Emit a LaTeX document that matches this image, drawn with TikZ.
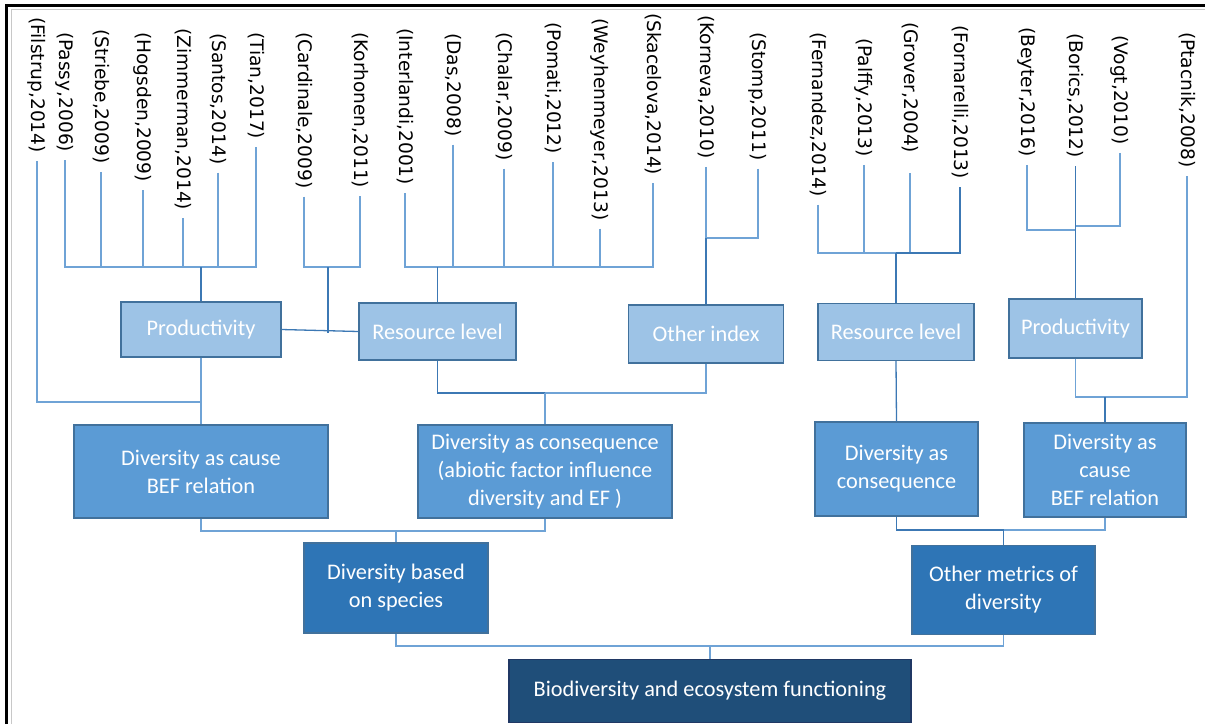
\documentclass[tikz,border=0pt]{standalone}
\usepackage{fontspec}
\setmainfont{Carlito}
\newfontfamily\labfont{DejaVu Sans}
\definecolor{lightfill}{HTML}{9DC3E6}
\definecolor{midfill}{HTML}{5B9BD5}
\definecolor{darkfill}{HTML}{2E75B6}
\definecolor{darkestfill}{HTML}{1F4E79}
\definecolor{boxline}{HTML}{41719C}
\definecolor{darkestline}{HTML}{203864}
\definecolor{connc}{HTML}{6FA3D6}
\definecolor{conndark}{HTML}{3C78B4}
\definecolor{framegray}{HTML}{C8C8C8}
\begin{document}
\begin{tikzpicture}[x=1pt,y=-1pt,
  lab/.style={rotate=-90, anchor=west, inner xsep=8pt, inner ysep=0pt, font=\labfont\fontsize{18.6}{22}\selectfont, text=black},
  bx/.style={draw=boxline, line width=1.1pt, text=white, align=center, inner sep=0pt, font=\fontsize{22.3}{28}\selectfont},
  lt/.style={bx, fill=lightfill},
  md/.style={bx, fill=midfill},
  dk/.style={bx, fill=darkfill},
  dkk/.style={bx, fill=darkestfill, draw=darkestline},
  conn/.style={draw=connc, line width=1.3pt},
  connd/.style={draw=conndark, line width=1.3pt}]
\useasboundingbox (0,0) rectangle (1205,724);
% frame
\draw[black, line width=2.2pt] (6.5,724) -- (6.5,5.5) -- (1205,5.5);
\draw[framegray, line width=1.5pt] (11.5,724) -- (11.5,9.5) -- (1205,9.5);

% reference labels
\node[lab] (l1) at (37,9) {(Filstrup,2014)};
\node[lab] (l2) at (65,24) {(Passy,2006)};
\node[lab] (l3) at (101,21) {(Striebe,2009)};
\node[lab] (l4) at (143,24) {(Hogsden,2009)};
\node[lab] (l5) at (183,20) {(Zimmerman,2014)};
\node[lab] (l6) at (218,25) {(Santos,2014)};
\node[lab] (l7) at (256,24) {(Tian,2017)};
\node[lab] (l8) at (304,24) {(Cardinale,2009)};
\node[lab] (l9) at (360,24) {(Korhonen,2011)};
\node[lab] (l10) at (405,20) {(Interlandi,2001)};
\node[lab] (l11) at (453,25) {(Das,2008)};
\node[lab] (l12) at (504,24) {(Chalar,2009)};
\node[lab] (l13) at (553,14) {(Pomati,2012)};
\node[lab] (l14) at (600,10) {(Weyhenmeyer,2013)};
\node[lab] (l15) at (653,5) {(Skacelova,2014)};
\node[lab] (l16) at (706,7) {(Korneva,2010)};
\node[lab] (l17) at (758,24) {(Stomp,2011)};
\node[lab] (l18) at (818,24) {(Fernandez,2014)};
\node[lab] (l19) at (864,30) {(Palffy,2013)};
\node[lab] (l20) at (910,14) {(Grover,2004)};
\node[lab] (l21) at (960,17) {(Fornarelli,2013)};
\node[lab] (l22) at (1027,19) {(Beyter,2016)};
\node[lab] (l23) at (1075.5,25) {(Borics,2012)};
\node[lab] (l24) at (1120,27) {(Vogt,2010)};
\node[lab] (l25) at (1187,24) {(Ptacnik,2008)};

% boxes
\node[lt, minimum width=160, minimum height=55] (p1) at (201,329.5) {Productivity};
\node[lt, minimum width=157, minimum height=57] (r1) at (437.5,331.5) {Resource level};
\node[lt, minimum width=155, minimum height=58] (o) at (706,334) {Other index};
\node[lt, minimum width=156, minimum height=57] (r2) at (896,332) {Resource level};
\node[lt, minimum width=133, minimum height=59] (p2) at (1075.5,328.5) {Productivity};
\node[md, minimum width=254, minimum height=93] (dc1) at (201,471.5) {Diversity as cause\\BEF relation};
\node[md, minimum width=254, minimum height=93] (dcon1) at (545,471.5) {Diversity as consequence\\(abiotic factor influence\\diversity and EF )};
\node[md, minimum width=163, minimum height=94] (dcon2) at (896.5,469) {Diversity as\\consequence};
\node[md, minimum width=162, minimum height=94] (dcr) at (1105,470) {Diversity as\\cause\\BEF relation};
\node[dk, minimum width=184, minimum height=90] (dbs) at (396,588) {Diversity based\\on species};
\node[dk, minimum width=183, minimum height=89] (om) at (1003.5,590) {Other metrics of\\diversity};
\node[dkk, minimum width=402, minimum height=63] (bef) at (710,691) {Biodiversity and ecosystem functioning};

% junctions
\coordinate (jP) at (201,267);
\coordinate (jF) at (201,402);
\coordinate (jK) at (328,267);
\coordinate (jK2) at (328,333);
\coordinate (jR) at (437.5,267);
\coordinate (jO) at (706,238);
\coordinate (jR2) at (896,253);
\coordinate (jB1) at (1075.5,230);
\coordinate (jB2) at (1075.5,226);
\coordinate (jPt) at (1105,397);
\coordinate (jD) at (545,393);
\coordinate (jL3) at (396,531);
\coordinate (jR3) at (1003.5,530);
\coordinate (j4) at (710,646);

% left productivity group
\foreach \n in {l2,l3,l4,l5,l6,l7} {\draw[conn] (\n.east) |- (jP);}
\draw[connd] (jP) -- (p1.north);
\draw[conn] (l1.east) |- (jF);
\draw[conn] (p1.south) -- (dc1.north);
% Cardinale / Korhonen
\draw[conn] (l8.east) |- (jK);
\draw[conn] (l9.east) |- (jK);
\draw[connd] (jK) -- (jK2);
\draw[connd] (p1.east) -- (r1.west);
% Interlandi group
\foreach \n in {l10,l11,l12,l13,l14,l15} {\draw[conn] (\n.east) |- (jR);}
\draw[connd] (jR) -- (r1.north);
% Korneva / Stomp
\draw[conn] (l16.east) |- (jO);
\draw[conn] (l17.east) |- (jO);
\draw[connd] (jO) -- (o.north);
% Fernandez group
\draw[conn] (l18.east) |- (jR2);
\draw[conn] (l19.east) |- (jR2);
\draw[conn] ([yshift=-12pt]l20.east) |- (jR2);
\draw[connd] (l21.east) |- (jR2);
\draw[connd] (jR2) -- (r2.north);
% Beyter group
\draw[conn] (l22.east) |- (jB1);
\draw[conn] (l24.east) |- (jB2);
\draw[connd] (l23.east) -- (p2.north);
% Ptacnik
\draw[conn] (l25.east) |- (jPt);
\draw[conn] (p2.south) |- (jPt);
\draw[connd] (jPt) -- (dcr.north);
\draw[connd] (r2.south) -- (dcon2.north);
% level 2 left
\draw[connd] (r1.south) |- (jD);
\draw[conn] (o.south) |- (jD);
\draw[conn] (jD) -- (dcon1.north);
% level 3
\draw[conn] (dc1.south) |- (jL3);
\draw[conn] (dcon1.south) |- (jL3);
\draw[conn] (jL3) -- (dbs.north);
\draw[connd] (dcon2.south) |- (jR3);
\draw[conn] (dcr.south) |- (jR3);
\draw[connd] (jR3) -- (om.north);
% level 4
\draw[conn] (dbs.south) |- (j4);
\draw[conn] (om.south) |- (j4);
\draw[conn] (j4) -- (bef.north);
\end{tikzpicture}
\end{document}
